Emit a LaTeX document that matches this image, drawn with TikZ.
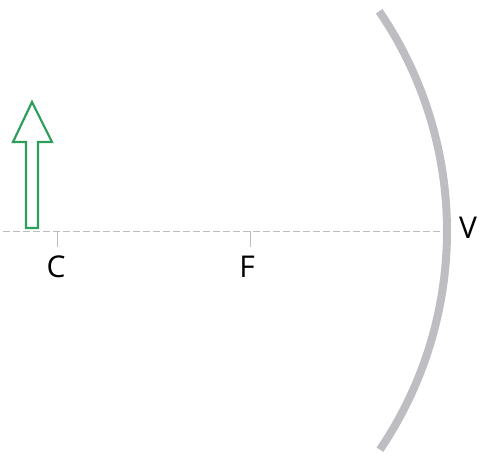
\documentclass[tikz,border=0pt]{standalone}
\usepackage{fontspec}
\setmainfont{Open Sans}
\definecolor{axisgray}{HTML}{BDBDBD}
\definecolor{mirrorgray}{HTML}{BEBEC2}
\definecolor{objgreen}{HTML}{2E9E5B}
\begin{document}
\begin{tikzpicture}[x=1pt,y=-1pt,
  axisline/.style={axisgray, line width=0.9pt, dash pattern=on 7pt off 3pt},
  tickline/.style={axisgray, line width=0.9pt},
  lbl/.style={font=\fontsize{30}{33}\selectfont, inner sep=0pt, text=black},
  mirror/.style={mirrorgray, line width=8pt},
  objarrow/.style={draw=objgreen, line width=2.2pt, line join=miter, fill=white}]
\useasboundingbox (0,0) rectangle (486,463);
% principal axis
\coordinate (axL) at (3,231);
\coordinate (axR) at (442,231);
\draw[axisline] (axL) -- (axR);
% ticks
\coordinate (Cc) at (57,231);
\coordinate (Ff) at (250,231);
\draw[tickline] (Cc) -- ++(0,16) coordinate (Cb);
\draw[tickline] (Ff) -- ++(0,16) coordinate (Fb);
\node[lbl] (Clbl) at (56,267) {C};
\node[lbl] (Flbl) at (247,267) {F};
\node[lbl] (Vlbl) at (468,228) {V};
% mirror
\draw[mirror] plot[domain=-34.3:34.1, samples=80] ({57+390*cos(\x)}, {231+390*sin(\x)});
% object arrow
\draw[objarrow] (26,228) -- (26,142) -- (13,142) -- (32,102) -- (52,142) -- (38,142) -- (38,228) -- cycle;
\end{tikzpicture}
\end{document}
